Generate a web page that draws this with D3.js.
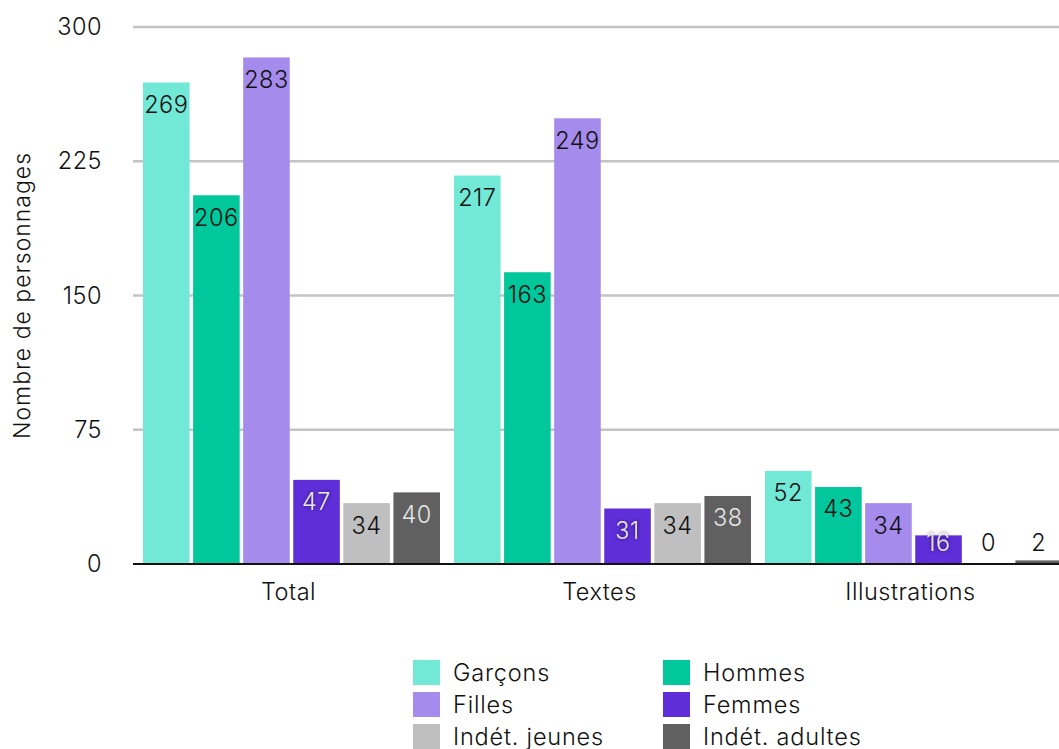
<!DOCTYPE html>
<html>
<head>
<meta charset="utf-8">
<script src="https://cdn.jsdelivr.net/npm/d3@7"></script>
<style>
  body { margin: 0; background: #fff; }
  svg text { font-family: "Inter", "Lato", sans-serif; }
</style>
</head>
<body>
<div id="graphique"></div>
<script>
// Données
const categories = ["Total", "Textes", "Illustrations"]
const series = ["Garçons", "Hommes", "Filles", "Femmes", "Indét. jeunes", "Indét. adultes"]
const garcons = [269, 217, 52]
const hommes = [206, 163, 43]
const filles = [283, 249, 34]
const femmes = [47, 31, 16]
const indetJeunes = [34, 34, 0]
const indetAdultes = [40, 38, 2]
const yTicks = [0, 75, 150, 225, 300]
const couleurs = ["#72e8d6", "#00c89c", "#a58bec", "#5f2ed9", "#bfbfbf", "#606060"]
const legendOrder = ["Garçons", "Hommes", "Filles", "Femmes", "Indét. jeunes", "Indét. adultes"]

const valeurs = [garcons, hommes, filles, femmes, indetJeunes, indetAdultes]
const data = categories.map((c, i) => ({
  cat: c,
  values: series.map((s, j) => ({ serie: s, value: valeurs[j][i] }))
}))

const width = 1059, height = 749
const margin = { top: 27, left: 136, bottom: 185 }
const fontSize = 23.5

const svg = d3.select("#graphique")
  .append("svg")
  .attr("width", width)
  .attr("height", height)

const defs = svg.append("defs")
defs.append("filter").attr("id", "ombre")
  .attr("x", "-50%").attr("y", "-50%").attr("width", "200%").attr("height", "200%")
  .append("feDropShadow")
  .attr("dx", 0).attr("dy", 0).attr("stdDeviation", 2)
  .attr("flood-color", "#000").attr("flood-opacity", 0.6)

// Echelles
let x0 = d3.scaleBand()
  .domain(categories)
  .range([margin.left, margin.left + 933])

let x1 = d3.scaleBand()
  .domain(series)
  .range([7, x0.bandwidth() - 7])
  .paddingInner(0.07)

let y = d3.scaleLinear()
  .domain([0, 300])
  .range([height - margin.bottom, margin.top])

let color = d3.scaleOrdinal().domain(series).range(couleurs)

// Grille
svg.append("g")
  .selectAll("line")
  .data(yTicks.filter(d => d > 0))
  .join("line")
  .attr("x1", margin.left - 3)
  .attr("x2", width)
  .attr("y1", d => y(d))
  .attr("y2", d => y(d))
  .attr("stroke", "#c4c4c4")
  .attr("stroke-width", 2.5)

// Axe y
const yAxis = svg.append("g")
  .attr("transform", "translate(" + (margin.left - 34) + ",0)")
  .call(d3.axisLeft(y).tickValues(yTicks).tickSize(0).tickPadding(0))
yAxis.select(".domain").remove()
yAxis.selectAll("text")
  .attr("font-size", fontSize)
  .attr("letter-spacing", 0.5)
  .attr("fill", "#111")
  .attr("font-weight", 300)

svg.append("text")
  .attr("transform", "translate(30," + y(150) + ") rotate(-90)")
  .attr("text-anchor", "middle")
  .attr("font-size", 23)
  .attr("letter-spacing", 1)
  .attr("font-weight", 300)
  .attr("fill", "#111")
  .text("Nombre de personnages")

// Barres
const groupes = svg.append("g")
  .selectAll("g")
  .data(data)
  .join("g")
  .attr("transform", d => "translate(" + x0(d.cat) + ",0)")

groupes.selectAll("rect")
  .data(d => d.values)
  .join("rect")
  .attr("x", d => x1(d.serie))
  .attr("y", d => y(d.value))
  .attr("width", x1.bandwidth())
  .attr("height", d => y(0) - y(d.value))
  .attr("fill", d => color(d.serie))

groupes.selectAll("text")
  .data(d => d.values)
  .join("text")
  .attr("x", d => x1(d.serie) + x1.bandwidth() / 2)
  .attr("y", d => Math.min(y(d.value) + 22, y(0) - 21))
  .attr("dy", "0.36em")
  .attr("text-anchor", "middle")
  .attr("font-size", fontSize)
  .attr("letter-spacing", 0.5)
  .attr("font-weight", 300)
  .attr("fill", d => (d.serie == "Femmes" || d.serie == "Indét. adultes") && d.value > 4 ? "#e6e6e6" : "#111")
  .attr("filter", d => d.serie == "Femmes" ? "url(#ombre)" : null)
  .text(d => d.value)

// Axe x
svg.append("line")
  .attr("x1", margin.left - 3)
  .attr("x2", width)
  .attr("y1", y(0))
  .attr("y2", y(0))
  .attr("stroke", "#111")
  .attr("stroke-width", 2)

svg.append("g")
  .selectAll("text")
  .data(categories)
  .join("text")
  .attr("x", d => x0(d) + x0.bandwidth() / 2 - 3)
  .attr("y", y(0) + 28)
  .attr("dy", "0.36em")
  .attr("text-anchor", "middle")
  .attr("font-size", fontSize)
  .attr("letter-spacing", 0.5)
  .attr("font-weight", 300)
  .attr("fill", "#111")
  .text(d => d)

// Légende
const legende = svg.append("g")
  .selectAll("g")
  .data(legendOrder)
  .join("g")
  .attr("transform", (d, i) => "translate(" + (413 + (i % 2) * 250) + "," + (660 + Math.floor(i / 2) * 32) + ")")

legende.append("rect")
  .attr("width", 27)
  .attr("height", 25)
  .attr("fill", d => color(d))

legende.append("text")
  .attr("x", 40)
  .attr("y", 13)
  .attr("dy", "0.36em")
  .attr("font-size", fontSize)
  .attr("letter-spacing", 0.8)
  .attr("font-weight", 300)
  .attr("fill", "#111")
  .text(d => d)
</script>
</body>
</html>
